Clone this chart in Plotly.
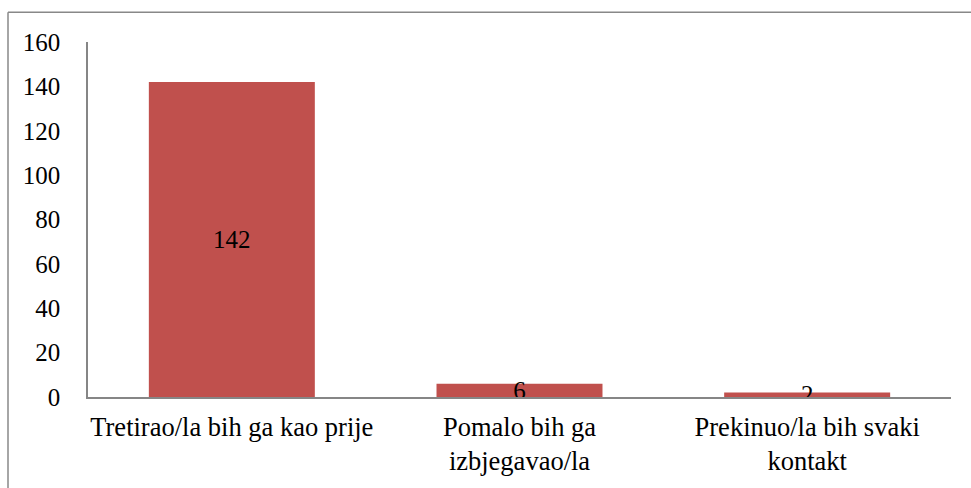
import plotly.graph_objects as go

categories = ["Tretirao/la bih ga kao prije", "Pomalo bih ga<br>izbjegavao/la", "Prekinuo/la bih svaki<br>kontakt"]
values = [142, 6, 2]
y_ticks = [0, 20, 40, 60, 80, 100, 120, 140, 160]

W, H = 971, 488
L, R, T, B = 88, 20, 42, 87
pw, ph = W - L - R, H - T - B

font = dict(family="Liberation Serif", size=25, color="black")
catfont = dict(family="Liberation Serif", size=26.5, color="black")

fig = go.Figure(go.Bar(
    x=categories, y=values,
    marker=dict(color="#C0504D", line=dict(width=0)),
    text=[str(v) for v in values],
    textposition="inside", insidetextanchor="middle",
    constraintext="none", textangle=0,
    textfont=font,
    width=0.577,
))

bx = (8 - L) / pw
by = 1 + (T - 12) / ph
fig.update_layout(
    width=W, height=H,
    margin=dict(l=L, r=R, t=T, b=B),
    paper_bgcolor="white", plot_bgcolor="white",
    font=font,
    showlegend=False,
    xaxis=dict(showgrid=False, showline=True, linecolor="#868686", linewidth=1.5,
               ticks="", tickfont=catfont, ticklabelstandoff=5),
    yaxis=dict(range=[0, 160], tickvals=y_ticks, showgrid=False, zeroline=False,
               showline=True, linecolor="#868686", linewidth=1.5, ticks="",
               tickfont=font, ticklabelstandoff=21),
    shapes=[
        dict(type="line", xref="paper", yref="paper", x0=bx, x1=bx, y0=-1, y1=by,
             line=dict(color="#888888", width=1.5)),
        dict(type="line", xref="paper", yref="paper", x0=bx, x1=1.5, y0=by, y1=by,
             line=dict(color="#888888", width=1.5)),
    ],
)
fig.write_html("out.html", config={"displayModeBar": False},
               post_script="document.body.style.margin='0';document.body.style.overflow='hidden';")
